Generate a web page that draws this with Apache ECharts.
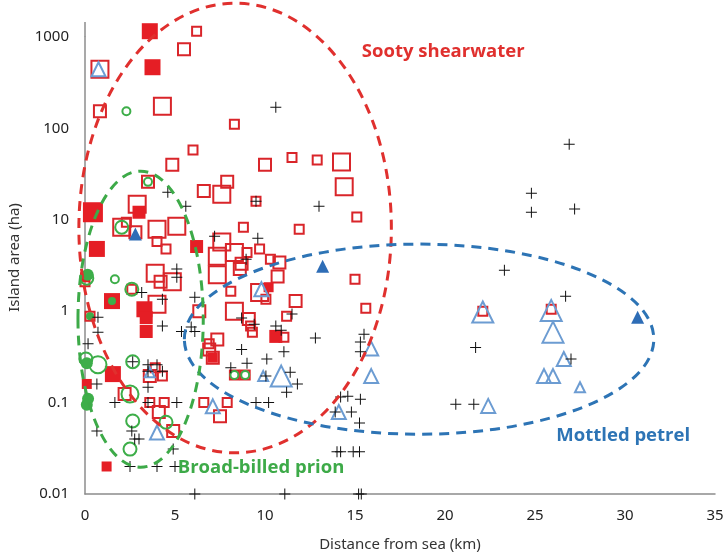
<!DOCTYPE html>
<html><head><meta charset="utf-8">
<script src="https://cdn.jsdelivr.net/npm/echarts@6/dist/echarts.min.js"></script>
<style>html,body{margin:0;padding:0;background:#fff}#c{width:727px;height:559px}</style>
</head><body><div id="c"></div><script>
// ---- data (distance from sea km, island area ha) ----
const xTicks = [0, 5, 10, 15, 20, 25, 30, 35];
const yTickLabels = ['0.01', '0.1', '1', '10', '100', '1000'];

const crosses = [
  [10.6,170],[4.6,20],[5.6,14.1],[13.0,14.1],[9.5,16],[7.2,6.6],[9.6,6.3],[8.95,3.7],
  [26.9,67],[24.8,19.5],[24.8,12.1],[27.2,13.1],[23.3,2.8],[26.7,1.46],[21.7,0.40],[27.0,0.30],
  [20.6,0.096],[21.6,0.096],[11.5,0.93],[8.7,0.84],[9.4,0.72],[10.6,0.69],[10.9,0.62],[12.8,0.51],
  [15.5,0.56],[15.3,0.46],[15.3,0.36],[8.7,0.38],[11.05,0.36],[10.1,0.30],[9.0,0.27],[8.1,0.24],
  [11.4,0.215],[10.05,0.195],[11.8,0.16],[11.2,0.13],[9.5,0.10],[10.2,0.10],[14.2,0.115],[14.6,0.117],
  [15.3,0.109],[13.9,0.079],[14.8,0.079],[15.25,0.06],[14.0,0.029],[14.2,0.029],[14.9,0.029],[15.25,0.029],
  [11.1,0.01],[15.2,0.01],[15.35,0.01],[6.1,0.01],[6.1,1.42],[5.9,0.67],[6.1,0.60],[3.15,1.6],
  [4.3,1.35],[4.3,0.69],[5.36,0.60],[5.1,2.9],[5.1,2.35],[0.72,0.86],[0.72,0.59],[0.17,0.44],
  [2.65,0.28],[3.5,0.22],[3.5,0.147],[3.5,0.26],[4.0,0.26],[4.3,0.22],[0.66,0.16],[1.66,0.10],
  [3.5,0.10],[5.1,0.10],[0.66,0.049],[2.6,0.049],[2.76,0.040],[3.0,0.040],[4.9,0.031],
  [2.5,0.02],[4.0,0.02],[5.0,0.02]
];

const redOpenSmall = [
  [6.2,1157],[8.3,111],[6.0,58],[11.5,48],[12.9,45],[15.1,10.7],[11.9,7.9],[8.8,8.3],[9.5,16],
  [2.3,9.4],[4.0,5.8],[4.5,4.8],[9.0,4.4],[9.7,4.8],[10.3,3.7],[8.1,1.65],[10.05,1.35],[11.2,0.88],
  [9.2,0.69],[9.3,0.59],[11.05,0.52],[6.9,0.44],[15.0,2.24],[15.6,1.08],[8.3,0.2],[8.9,0.2],
  [6.6,0.1],[7.9,0.1],[22.1,1.0],[25.9,1.05],[2.6,1.74],[0.28,0.88],[3.6,0.1],[4.4,0.1],
  [3.9,0.24],[4.3,0.195],[0,2.1]
];
const redOpenMedium = [
  [5.5,735],[0.83,154],[4.85,40],[3.5,26],[10.0,40],[6.6,20.6],[7.9,26],[2.8,7.3],[8.7,3.3],
  [10.8,3.4],[8.6,2.9],[10.7,2.4],[11.7,1.29],[9.1,0.82],[6.35,1.0],[7.35,0.49],[7.1,0.31],
  [7.5,0.071],[4.2,2.1],[6.9,0.38],[3.6,0.195],[4.1,0.079],[4.9,0.049],[2.2,0.124]
];
const redOpenLarge = [
  [0.83,444],[4.3,175],[14.25,43],[14.4,23],[7.6,19],[2.9,14.8],[2.04,8.3],[4.0,7.9],[5.1,8.5],
  [7.6,5.7],[7.35,4.0],[8.3,4.4],[7.35,2.5],[9.7,1.6],[8.3,1.0],[4.0,1.19],[3.9,2.6],[4.85,2.1]
];
const redFilledSmall = [[10.2,1.83],[7.1,0.31],[0.1,0.16],[1.2,0.02],[0,2.35]];
const redFilledMedium = [[3.0,12.1],[6.2,5.1],[3.4,0.6],[10.6,0.53],[3.4,0.85]];
const redFilledLarge = [[3.6,1157],[3.75,467],[0.66,4.8],[1.5,1.29],[3.3,1.05],[1.55,0.205]];
const redFilledXL = [[0.44,12.1]];

const greenOpenSmall = [[2.3,154],[3.5,26],[1.66,2.24],[8.3,0.2],[8.9,0.2]];
const greenOpenMedium = [[2.04,8.3],[2.6,1.74],[0.05,0.3],[2.65,0.28],[2.65,0.063],[4.5,0.061],[2.5,0.031],[0.1,2.3]];
const greenOpenLarge = [[0.72,0.26],[2.5,0.124]];
const greenFilledSmall = [[1.5,1.29],[0.28,0.88]];
const greenFilledMedium = [[0.15,2.5],[0.1,0.27],[0.17,0.11],[0.1,0.095]];

const blueOpenSmall = [[9.9,0.195],[27.5,0.147],[3.6,0.215]];
const blueOpenMedium = [[7.1,0.091],[9.8,1.74],[14.1,0.079],[15.9,0.39],[15.9,0.195],[4.0,0.047],
  [22.4,0.092],[26.6,0.30],[25.5,0.195],[26.0,0.195],[0.75,444]];
const blueOpenLarge = [[10.9,0.195],[22.1,0.98],[25.9,1.02],[26.0,0.59]];
const blueFilled = [[2.8,7.0],[13.2,3.1],[30.7,0.86]];

// ellipse annotations: [centre km, centre log10(ha), radius km, radius decades]
const ellipseSooty = [8.34, 0.91, 8.68, 2.46];
const ellipseMottled = [18.56, -0.306, 13.04, 1.04];
const ellipsePrion = [3.09, -0.0875, 3.48, 1.62];
const labelNames = ['Sooty shearwater', 'Mottled petrel', 'Broad-billed prion'];
const labelAnchors = [[19.9, 682], [29.9, 0.0429], [9.78, 0.0196]];

// ---- chart ----
const RED = '#E51E25', RED_EDGE = '#D9252A', GREEN = '#3DAE49', BLUE_L = '#6C9CD2', BLUE_D = '#2E6DB6';
const ELL_RED = '#E0302E', ELL_GREEN = '#3DAA48', ELL_BLUE = '#2D74B5';
const PLUS = 'path://M5,0h1v5h5v1h-5v5h-1v-5h-5v-1h5z';

function sc(data, symbol, size, style, z) {
  return { type: 'scatter', data, symbol, symbolSize: size, itemStyle: Object.assign({ opacity: 1 }, style),
    z, silent: true, animation: false, clip: false };
}
const openRed = { color: 'rgba(0,0,0,0)', borderColor: RED_EDGE, borderWidth: 2 };
const openGreen = { color: 'rgba(0,0,0,0)', borderColor: GREEN, borderWidth: 2 };
const openBlue = { color: 'rgba(0,0,0,0)', borderColor: BLUE_L, borderWidth: 2 };

const chart = echarts.init(document.getElementById('c'), null, { renderer: 'canvas' });
const FONT = 'Noto Sans';
chart.setOption({
  backgroundColor: '#fff',
  animation: false,
  grid: { left: 85, right: 12, top: 37, bottom: 65, containLabel: false },
  xAxis: {
    type: 'value', min: xTicks[0], max: xTicks[xTicks.length - 1], interval: 5,
    name: 'Distance from sea (km)', nameLocation: 'middle', nameGap: 43,
    nameTextStyle: { fontFamily: FONT, fontSize: 15, color: '#333' },
    axisLine: { lineStyle: { color: '#8c8c8c', width: 1.5 } },
    axisTick: { show: false }, splitLine: { show: false },
    axisLabel: { fontFamily: FONT, fontSize: 15, color: '#222', margin: 14 }
  },
  yAxis: {
    type: 'log', logBase: 10, min: 0.01, max: 1000,
    axisLine: { show: true, lineStyle: { color: '#8c8c8c', width: 1.5 } },
    axisTick: { show: false }, splitLine: { show: false },
    axisLabel: { fontFamily: FONT, fontSize: 15, color: '#222', margin: 16,
      formatter: v => yTickLabels[Math.round(Math.log10(v)) + 2] }
  },
  series: [
    sc(redOpenLarge, 'rect', 17, openRed, 2),
    sc(redOpenMedium, 'rect', 12, openRed, 2),
    sc(redOpenSmall, 'rect', 9, openRed, 2),
    sc(redFilledXL, 'rect', 20, { color: RED }, 3),
    sc(redFilledLarge, 'rect', 16, { color: RED }, 3),
    sc(redFilledMedium, 'rect', 13, { color: RED }, 3),
    sc(redFilledSmall, 'rect', 10, { color: RED }, 3),
    sc(greenOpenLarge, 'circle', 17, openGreen, 4),
    sc(greenOpenMedium, 'circle', 13, openGreen, 4),
    sc(greenOpenSmall, 'circle', 8, openGreen, 4),
    sc(greenFilledMedium, 'circle', 12, { color: GREEN }, 4),
    sc(greenFilledSmall, 'circle', 8, { color: GREEN }, 4),
    sc(blueOpenLarge, 'triangle', 21, openBlue, 5),
    sc(blueOpenMedium, 'triangle', 14, openBlue, 5),
    sc(blueOpenSmall, 'triangle', 10, openBlue, 5),
    sc(blueFilled, 'triangle', 13, { color: BLUE_D }, 5),
    sc(crosses, PLUS, 11, { color: '#111' }, 6)
  ]
});

function ell(e, color) {
  const c = chart.convertToPixel({ gridIndex: 0 }, [e[0], Math.pow(10, e[1])]);
  const r = chart.convertToPixel({ gridIndex: 0 }, [e[0] + e[2], Math.pow(10, e[1] + e[3])]);
  return { type: 'ellipse', silent: true, z: 50,
    shape: { cx: c[0], cy: c[1], rx: r[0] - c[0], ry: c[1] - r[1] },
    style: { fill: 'none', stroke: color, lineWidth: 3, lineDash: [10, 7] } };
}
function lab(i, color) {
  const p = chart.convertToPixel({ gridIndex: 0 }, labelAnchors[i]);
  return { type: 'text', silent: true, z: 60, x: p[0], y: p[1],
    style: { text: labelNames[i], fill: color, font: 'bold 18.5px "Open Sans"', align: 'center', verticalAlign: 'middle' } };
}
const axisTopPx = chart.convertToPixel({ gridIndex: 0 }, [0, 1000]);
const gridRect = chart.getModel().getComponent('grid').coordinateSystem.getRect();
chart.setOption({ graphic: [
  { type: 'line', silent: true, shape: { x1: axisTopPx[0], y1: axisTopPx[1] - 15, x2: axisTopPx[0], y2: axisTopPx[1] },
    style: { stroke: '#8c8c8c', lineWidth: 1.5 } },
  { type: 'text', silent: true, x: 15, y: gridRect.y + gridRect.height / 2 - 8, rotation: Math.PI / 2,
    style: { text: 'Island area (ha)', fill: '#333', font: '15px "Noto Sans"', align: 'center', verticalAlign: 'middle' } },
  ell(ellipseSooty, ELL_RED), ell(ellipseMottled, ELL_BLUE), ell(ellipsePrion, ELL_GREEN),
  lab(0, ELL_RED), lab(1, ELL_BLUE), lab(2, ELL_GREEN)
] });
</script></body></html>
